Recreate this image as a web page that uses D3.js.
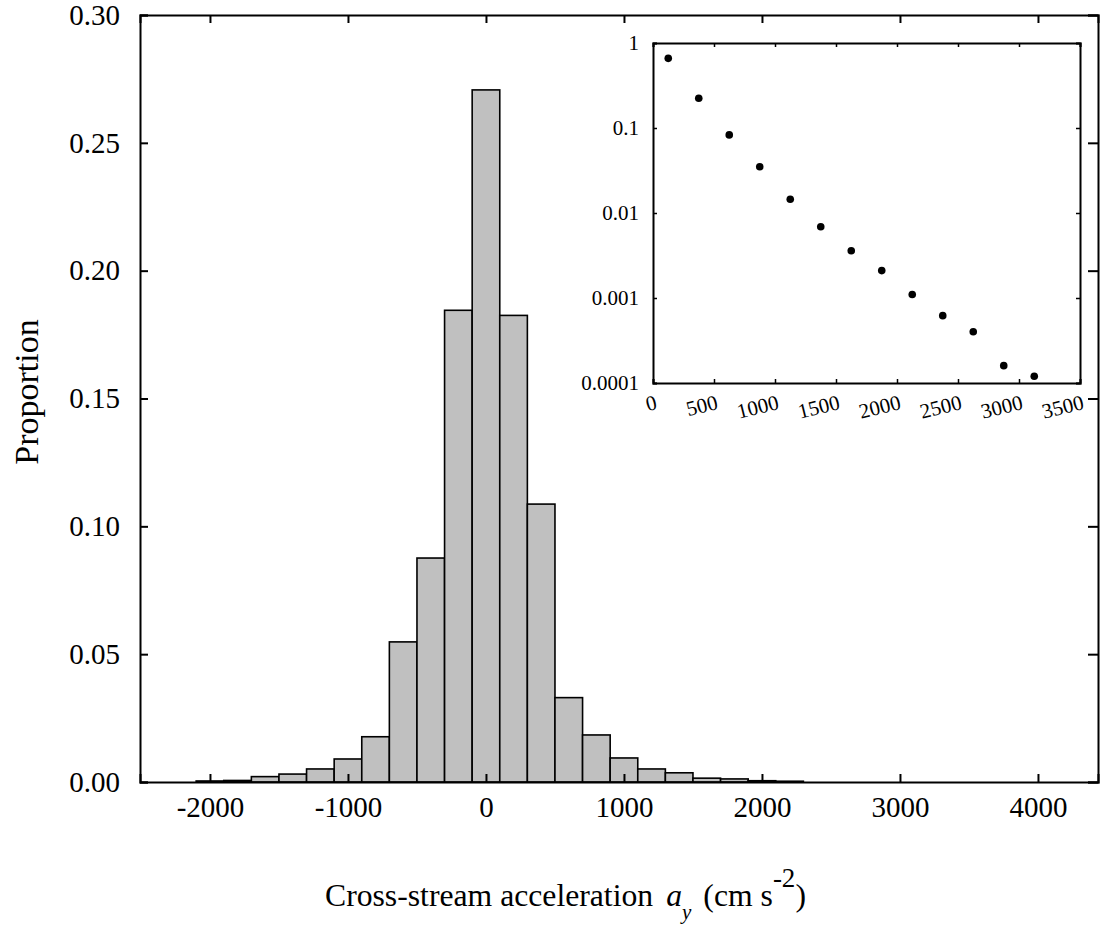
<!DOCTYPE html>
<html>
<head>
<meta charset="utf-8">
<script src="https://cdn.jsdelivr.net/npm/d3@7"></script>
<style>
    body { margin: 0; background: #fff; }
    text { font-family: "Liberation Serif", "Times New Roman", serif; fill: #000; }
</style>
</head>
<body>
<svg id="histGraph" width="1100" height="928"></svg>
<script>
// histogram bins (bin centres, width 200)
const binCenters = [-2000, -1800, -1600, -1400, -1200, -1000, -800, -600, -400, -200, 0,
    200, 400, 600, 800, 1000, 1200, 1400, 1600, 1800, 2000, 2200];
const proportions = [0.0004, 0.0006, 0.0021, 0.0031, 0.0051, 0.0090, 0.0177, 0.0548, 0.0876, 0.1845, 0.2707,
    0.1825, 0.1087, 0.0330, 0.0184, 0.0094, 0.0051, 0.0036, 0.0015, 0.0012, 0.0005, 0.0003];
const binWidth = 200;
const xTicks = [-2000, -1000, 0, 1000, 2000, 3000, 4000];
const yTicks = [0, 0.05, 0.10, 0.15, 0.20, 0.25, 0.30];

// inset (log scale)
const insetX = [125, 375, 625, 875, 1125, 1375, 1625, 1875, 2125, 2375, 2625, 2875, 3125];
const insetY = [0.66, 0.224, 0.083, 0.035, 0.0145, 0.0069, 0.0036, 0.0021, 0.0011, 0.00062, 0.0004, 0.00016, 0.00012];
const insetXTicks = [0, 500, 1000, 1500, 2000, 2500, 3000, 3500];
const insetYTicks = [1, 0.1, 0.01, 0.001, 0.0001];

document.addEventListener("DOMContentLoaded", () => {
    const left = 140, top = 15, right = 1098, bottom = 782;

    const svg = d3.select("#histGraph");

    const xAxis = d3.scaleLinear().domain([-2507, 4435]).range([left, right]);
    const yAxis = d3.scaleLinear().domain([0, 0.30]).range([bottom, top]);

    //draws bars
    svg.append("g")
        .selectAll("rect")
        .data(binCenters)
        .enter()
        .append("rect")
        .attr("x", (d) => xAxis(d - binWidth / 2))
        .attr("y", (d, i) => yAxis(proportions[i]))
        .attr("width", (d) => xAxis(d + binWidth / 2) - xAxis(d - binWidth / 2))
        .attr("height", (d, i) => bottom - yAxis(proportions[i]))
        .style("fill", "#c0c0c0")
        .style("stroke", "#000")
        .style("stroke-width", 1.6);

    // axes on all four sides, ticks pointing inward
    svg.append("g")
        .attr("transform", `translate(0, ${bottom})`)
        .call(d3.axisBottom(xAxis).tickValues(xTicks).tickSize(-8).tickPadding(14).tickFormat((d) => String(d)));
    svg.append("g")
        .attr("transform", `translate(0, ${top})`)
        .call(d3.axisTop(xAxis).tickValues(xTicks).tickSize(-8).tickFormat(""));
    svg.append("g")
        .attr("transform", `translate(${left}, 0)`)
        .call(d3.axisLeft(yAxis).tickValues(yTicks).tickSize(-8).tickPadding(20).tickFormat(d3.format(".2f")));
    svg.append("g")
        .attr("transform", `translate(${right}, 0)`)
        .call(d3.axisRight(yAxis).tickValues(yTicks).tickSize(-10).tickFormat(""));

    svg.selectAll(".domain").style("stroke", "#000").style("stroke-width", 2);
    svg.selectAll(".tick line").style("stroke", "#000").style("stroke-width", 2);
    svg.selectAll(".tick text")
        .style("font-family", "'Liberation Serif', serif")
        .style("font-size", "29px")
        .style("fill", "#000");

    // inset plot
    const iLeft = 653, iTop = 43, iRight = 1080, iBottom = 383;
    const xIn = d3.scaleLinear().domain([0, 3500]).range([iLeft, iRight]);
    const yIn = d3.scaleLog().domain([0.0001, 1]).range([iBottom, iTop]);

    const inset = svg.append("g").attr("class", "inset");

    inset.append("rect")
        .attr("x", iLeft)
        .attr("y", iTop)
        .attr("width", iRight - iLeft)
        .attr("height", iBottom - iTop)
        .style("fill", "#fff")
        .style("stroke", "none");

    const inBottom = inset.append("g")
        .attr("transform", `translate(0, ${iBottom})`)
        .call(d3.axisBottom(xIn).tickValues(insetXTicks).tickSize(-4).tickFormat((d) => String(d)));
    inBottom.selectAll("text")
        .attr("x", -2)
        .attr("y", 26)
        .attr("dy", 0)
        .attr("text-anchor", "end")
        .attr("transform", "rotate(-14)");
    inset.append("g")
        .attr("transform", `translate(0, ${iTop})`)
        .call(d3.axisTop(xIn).tickValues(insetXTicks).tickSize(-4).tickFormat(""));
    inset.append("g")
        .attr("transform", `translate(${iLeft}, 0)`)
        .call(d3.axisLeft(yIn).tickValues(insetYTicks).tickSize(-4).tickPadding(14).tickFormat((d) => String(d)));
    inset.append("g")
        .attr("transform", `translate(${iRight}, 0)`)
        .call(d3.axisRight(yIn).tickValues(insetYTicks).tickSize(-4).tickFormat(""));

    inset.selectAll(".domain").style("stroke", "#000").style("stroke-width", 2);
    inset.selectAll(".tick line").style("stroke", "#000").style("stroke-width", 1.5);
    inset.selectAll(".tick text")
        .style("font-family", "'Liberation Serif', serif")
        .style("font-size", "21px")
        .style("fill", "#000");

    // draws points
    inset.selectAll("circle")
        .data(insetX)
        .enter()
        .append("circle")
        .attr("cx", (d) => xIn(d))
        .attr("cy", (d, i) => yIn(insetY[i]))
        .attr("r", 3.8)
        .style("fill", "#000");

    // titles and labels
    svg.append("text")
        .attr("x", -392)
        .attr("y", 38)
        .attr("transform", "rotate(-90)")
        .attr("text-anchor", "middle")
        .style("font-size", "34px")
        .text("Proportion");

    const xLabel = svg.append("text")
        .attr("x", 325)
        .attr("y", 906)
        .style("font-size", "31.7px");
    xLabel.append("tspan").text("Cross-stream acceleration");
    xLabel.append("tspan")
        .attr("dx", 13)
        .style("font-style", "italic")
        .text("a");
    xLabel.append("tspan")
        .attr("dy", 13)
        .style("font-style", "italic")
        .style("font-size", "21px")
        .text("y");
    xLabel.append("tspan")
        .attr("dx", 12)
        .attr("dy", -13)
        .text("(cm s");
    xLabel.append("tspan")
        .attr("dy", -19)
        .style("font-size", "27px")
        .text("-2");
    xLabel.append("tspan")
        .attr("dy", 19)
        .text(")");
});
</script>
</body>
</html>
